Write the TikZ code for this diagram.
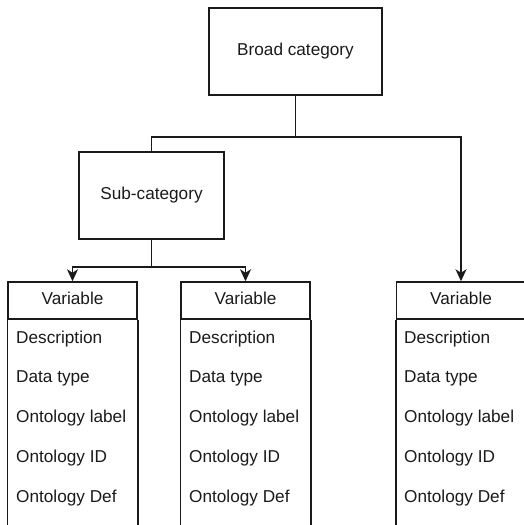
\documentclass[tikz,border=0pt]{standalone}
\usepackage{fontspec}
\setmainfont{Liberation Sans}
\usetikzlibrary{arrows.meta}
\definecolor{ink}{HTML}{1A1A1A}
\tikzset{
  every node/.style={font=\fontsize{17.2}{20}\selectfont, text=ink},
  box/.style={draw=ink, line width=1.5pt, rectangle, inner sep=0pt},
  hdr/.style={draw=ink, line width=1.5pt, rectangle, inner sep=0pt, minimum width=129pt, minimum height=37pt, text height=12pt, text depth=4pt},
  fld/.style={anchor=west, inner sep=0pt, text height=12pt, text depth=4pt},
  conn/.style={draw=ink, line width=1.5pt},
  arr/.style={conn, -{Stealth[length=12pt, width=11pt, inset=3.5pt]}},
}
\begin{document}
\begin{tikzpicture}[x=1pt, y=-1pt]
\useasboundingbox (0,0) rectangle (523,525);
\node[box, minimum width=173pt, minimum height=87pt] (broad) at (295.5,51.5) {Broad category};
\node[box, minimum width=145pt, minimum height=87pt] (sub) at (151.5,195.5) {Sub-category};
\node[hdr] (v1) at (72.5,300.5) {Variable};
\node[hdr] (v2) at (245.5,300.5) {Variable};
\node[hdr] (v3) at (461,300.5) {Variable};
\foreach \v in {v1,v2,v3}{
  \draw[conn] (\v.south west) -- ++(0,207);
  \draw[conn] (\v.south east) -- ++(0,207);
}
\foreach \v/\x in {v1/16,v2/189,v3/404}{
  \node[fld] (\v d) at (\x,339.5) {Description};
  \node[fld] (\v t) at (\x,378) {Data type};
  \node[fld] (\v l) at (\x,418) {Ontology label};
  \node[fld] (\v i) at (\x,458) {Ontology ID};
  \node[fld] (\v f) at (\x,498) {Ontology Def};
}
\coordinate (j1) at (295.5,137);
\coordinate (j2) at (151.5,267);
\draw[conn] (broad.south) -- (j1);
\draw[conn] (sub.north) |- (j1);
\draw[arr] (j1) -| (v3.north);
\draw[conn] (sub.south) -- (j2);
\draw[arr] (j2) -| (v1.north);
\draw[arr] (j2) -| (v2.north);
\end{tikzpicture}
\end{document}
